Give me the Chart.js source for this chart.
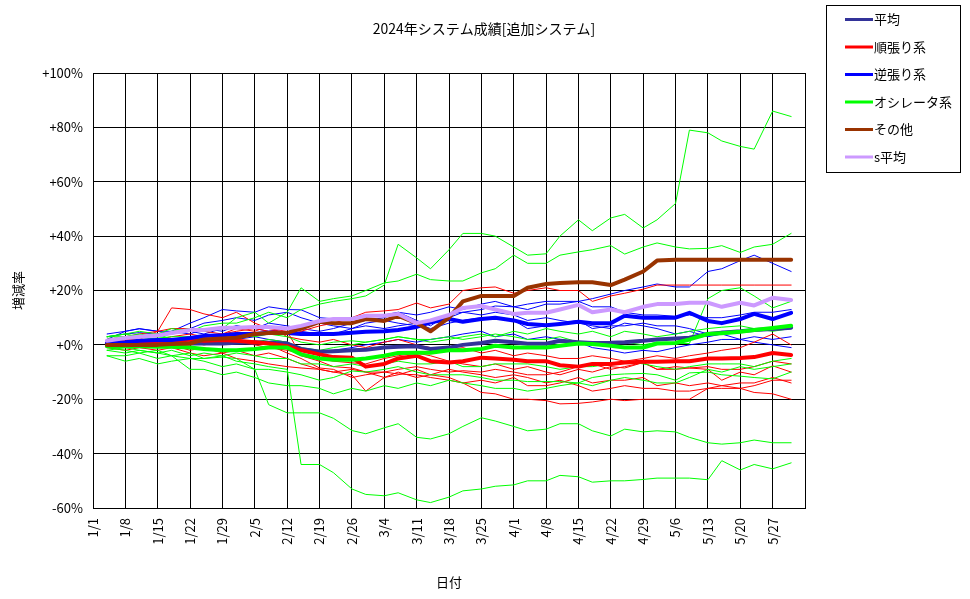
<!DOCTYPE html>
<html lang="ja">
<head>
<meta charset="utf-8">
<title>2024年システム成績[追加システム]</title>
<script src="https://cdn.jsdelivr.net/npm/chart.js@4.4.1/dist/chart.umd.min.js"></script>
<style>
  html, body { margin: 0; padding: 0; background: #fff; }
  #wrap { width: 970px; height: 599px; }
</style>
</head>
<body>
<div id="wrap"><canvas id="chart" width="970" height="599"></canvas></div>
<script>
// day number from 1/1 (0 = 1/1)
const tradeDays = [3,7,10,14,17,21,24,28,31,35,38,42,45,49,52,56,59,63,66,70,73,77,80,84,87,91,94,98,101,105,108,112,115,119,122,126,129,133,136,140,143,147,151];
const xTickLabels = ['1/1','1/8','1/15','1/22','1/29','2/5','2/12','2/19','2/26','3/4','3/11','3/18','3/25','4/1','4/8','4/15','4/22','4/29','5/6','5/13','5/20','5/27'];
const chartTitle = '2024年システム成績[追加システム]';

// averages (%)
const avgAll   = [0,0,0,0.3,0.3, 0.5,0.5,0.5,0.8,1, 0.8,0.5,-1.5,-2.5,-2.3, -2,-1.8,-1,-0.7,-0.5, -1.5,-1,0,0.7,1.5, 1,0.4,0.4,1.5,1, 0.7,0.8,1,1.5,2, 2.3,2.6,4,4.5,5, 5.5,5.8,6.3];
const avgTrend = [0.5,0.8,1,1.5,1.5, 2,1.5,1.8,1.5,1, 0.5,-0.5,-2,-3.5,-4.5, -4.7,-8,-7,-5,-4, -6,-6.5,-6,-4.7,-5, -5.5,-6,-6,-7.5,-8, -7,-7,-6.5,-6.2,-6.2, -6,-6,-5,-5,-4.8, -4.5,-3,-3.7];
const avgContra = [0.5,1,1.5,1.8,1.8, 2.5,3.3,3.5,4,4, 4.5,4.4,4,4,4, 4.5,4.8,5,5.5,6.6, 8.3,9.5,8.5,9.5,10, 9,7.7,7.2,7.7,8.5, 8,8,10.7,10,10, 10,11.8,8.8,8,9.5, 11.4,9.5,11.8];
const avgOsc   = [-0.5,-0.5,-0.5,-0.7,-0.7, -1,-1.5,-2,-2,-1.5, -1,-1,-3.5,-5,-5.5, -5.5,-5,-4,-3,-2.9, -2.9,-2,-2,-1.5,-0.3, -1,-1,-1,-0.3,0.5, 0.3,-0.3,-1,-1,0.5, 0.7,2,4,4.3,4.8, 5.5,6.2,7];
const avgOther = [0,0,0,0,0.3, 0.5,2,2.3,2.6,4, 4.4,4.4,6,8.5,8, 8,9.5,8.8,10.7,8, 5,10,16,18,18, 18,21,22.4,22.8,23, 23,22,24,27,31, 31.3,31.3,31.3,31.3,31.3, 31.3,31.3,31.3];
const avgS     = [1.5,2.5,3,3.5,4.4, 5.5,5.5,6.3,6.3,6.6, 6.6,6,7,8.8,9.5, 9.5,10.7,10.7,11.4,8, 9,11,13.6,14.3,13, 11.4,11.8,11.8,13,14.7, 12,13,12,14,15, 15,15.5,15.5,14,15.5, 14.5,17.3,16.5];

// individual oscillator systems
const osc1 = [3,4,5,4,6, 5,7,8,8,10, 12,10,13,15,16, 17,18,22,37,32, 28,35,41,41,40, 36,33,33.5,40,46, 42,46.7,48,43,46, 52,79,78,75,73, 72,86,84];
const osc2 = [3,3,4,3,5, 6,5,6,10,12, 8,12,21,16,17, 18,20,22.8,23.5,26, 24,23.5,23.5,26.5,28, 33,30,30,33,34.2, 35,36.5,33.4,36,37.5, 36,35.3,35.5,36.5,34, 36,37,41];
const osc3 = [2,3,2,2.5,3, 3,2,3,3.5,3, 4,3,1,0,1, 1.5,1,2,3,2, 2,3,2,3,4, 3,2,2,3,1, 0,1,1,0,1, 0.5,0.5,17,20,21, 18,13.6,16];
const osc4 = [-2,-3,-2,-3,-4, -3,-5,-4,-6,-7, -8,-9,-44,-44,-47, -53,-55,-55.5,-54.4,-57, -58,-56,-53.7,-53,-52, -51.5,-50,-50,-48,-48.5, -50.5,-50,-50,-49.5,-49, -49,-49,-49.6,-42.6,-46, -44,-45.6,-43.4];
const osc5 = [-4,-6,-5,-7,-6, -5,-5,-4.5,-5,-9, -22,-25,-25,-25,-27, -31.5,-32.7,-30.5,-29,-34, -34.6,-32.7,-30,-26.8,-28, -30,-31.6,-31,-29,-29, -31.6,-33.5,-31,-32,-31.6, -32,-34,-36,-36.5,-36, -35,-36,-36];
const osc6 = [-1,-2,-3,-2,-4, -5,-6,-8,-7,-9, -9,-10,-11,-13,-12, -9.6,-10,-9,-8,-10, -11,-11,-11,-12,-13, -13,-13.5,-13.5,-13.5,-14, -12,-11,-10.7,-10.5,-11, -13,-10.3,-10,-11,-11.5, -12,-12.5,-10];
const osc7 = [-2,-1,-2,-3,-2, -4,-3,-4,-3,-4, -5,-5,-7,-7,-8, -7,-8,-7,-6,-7, -7,-6,-8,-8,-7, -7,-7,-8,-9,-8, -8,-7,-6,-7,-8, -9,-8,-7,-7,-7, -8,-6,-5];
const osc8 = [3,4,3,4,2, 2,1,2,1,1, 2,1,-1,-2,-1, 0,1,2,3,2, 1,2,3,4,3, 5,4,6,5,4, 5,3,5,4,3, 4,5,6,6.5,7, 6,5,6];
const osc9 = [-4,-4,-3,-5,-4, -9,-9,-11,-10,-12, -14,-15,-15,-16,-18, -16,-17,-15,-16,-14, -15,-13,-14,-15,-16, -16,-17,-16,-15,-14, -15,-13,-12,-13,-14, -14,-12,-9,-10,-8, -9,-8,-7];

// individual trend systems
const trend1 = [1,2,2,5,13.6, 13,11.4,10,12,8, 6,5,-4,-6,-8, -8.5,-10,-12,-11,-9, -11,-12,-14,-13,-14, -12,-15,-15,-14,-12, -14,-13,-13,-12,-15, -14,-15,-14,-15,-16, -15,-13,-13];
const trend2 = [1,1.5,2,2,3, 4,3,4,5,6, 5,6,5,7,8, 10,12,12.5,13,15.4, 13.6,15,20,21,21.3, 19,20,21,20,20, 16,18,19,20.5,22, 22,22,22,22,22, 22,22,22];
const trend3 = [0,-1,-1,-2,-1, -3,-4,-3,-5,-6, -7,-8,-8.5,-9,-10, -9,-10,-10,-10.7,-11, -12,-13,-14,-17.5,-18, -20,-20,-20.5,-21.7,-21.5, -21,-20,-20.5,-20,-20, -20,-20,-16,-16,-16, -17.5,-18,-20];
const trend4 = [0.5,0,1,-1,0, -2,-1,-3,-2,-4, -3,-5,-7,-9,-10, -11,-17,-12,-10,-12, -11,-9,-10,-11,-12, -11,-12,-14,-13,-15, -17,-16,-15,-16,-16, -17,-17,-16,-15,-14, -14,-12,-14];
const trend5 = [1,1,0,1,2, 1,2,0,1,0, -1,-2,-3,-5,-6, -6.6,-7,-5,-4,-3, -4,-6,-7,-8,-7, -9,-8,-10,-11,-9, -10,-8,-8.5,-6.5,-9, -9,-8.5,-9,-13,-10, -11,-7.7,-10];
const trend6 = [2,3,4,5,6, 6,5,4,6,5, 7,3,2,1,2, 0,-1,1,2,0, -1,-2,-1,-3,-2, -4,-3,-4,-5,-5, -4,-5,-6,-5,-4, -5,-4,-3,-2,-1, 1,4,0];
const trend7 = [-1,-2,-1,0,-1, 1,0,1,2,1, 0,-3,-5,-8.5,-9, -12,-11,-10,-9,-8, -9,-10,-9.5,-10,-9, -10,-11,-11,-10,-8, -7,-9,-8,-6.5,-9, -8,-8.5,-8,-9,-9, -8,-6,-7];

// individual contrarian systems
const contra1 = [2,5,5.9,5,5, 8,10,13,12.5,12, 14,13,12.9,10,9.6, 10,11,11,12,9, 7,11.4,12,13,14.3, 14,15,16,16,16, 17,18.7,20,21.3,22.4, 21.3,21.3,27,28,31, 33,30,27];
const contra2 = [1,2,3,3,4, 5,4,6,7,6, 8,7,6,5,6, 8,9,10,12,11, 12,14,13,15,16, 14,13,15,15,16, 14,14,12,11,11, 10.5,11,10,10,11, 12,12,13];
const contra3 = [3,4,4.5,4,5, 4,6,5,7,6, 5,6,5,4,4, 6,7,6,7,8, 6,8,9,10,10, 9,6,7,8,9, 6,7,7,8,7, 7,6,4,5,5, 6,6,6];
const contra4 = [0,1,2,1,2, 3,2,1,2,3, 2,1,-2,-3,-2, -1,0,1,2,1, 2,3,4,5,3, 4,2,3,2,1, -1,-2,-3,-2,-2.5, -1,0,1,2,2, 1,0,-1];
const contra5 = [4,5,6,5,4, 6,8,9,10,9, 11,12,10,8,7, 6,8,9,8,7, 9,10,12,11,12, 11,9,10,9,8, 7,6,8,7,6, 4,5,3,4,2, 3,2,3];

const seriesNames = ['平均', '順張り系', '逆張り系', 'オシレータ系', 'その他', 's平均'];
const seriesValues = [avgAll, avgTrend, avgContra, avgOsc, avgOther, avgS];
const seriesColors = ['#333399', '#FF0000', '#0000FF', '#00FF00', '#993300', '#CC99FF'];

const thinGroups = [
  { color: '#00FF00', lines: [osc1, osc2, osc3, osc4, osc5, osc6, osc7, osc8, osc9] },
  { color: '#FF0000', lines: [trend1, trend2, trend3, trend4, trend5, trend6, trend7] },
  { color: '#0000FF', lines: [contra1, contra2, contra3, contra4, contra5] }
];

function toPoints(values) {
  return values.map((v, i) => ({ x: tradeDays[i], y: v }));
}

const datasets = [];
seriesNames.forEach((name, i) => {
  datasets.push({
    label: name,
    data: toPoints(seriesValues[i]),
    borderColor: seriesColors[i],
    borderWidth: 4,
    order: 5 - i
  });
});
thinGroups.forEach(g => {
  g.lines.forEach(line => {
    datasets.push({
      label: '',
      data: toPoints(line),
      borderColor: g.color,
      borderWidth: 1,
      order: 10
    });
  });
});

const frameText = {
  id: 'frameText',
  afterDraw(chart) {
    const ctx = chart.ctx;
    ctx.save();
    ctx.fillStyle = '#000';
    ctx.font = '14px "Noto Sans CJK JP"';
    ctx.textAlign = 'center';
    ctx.textBaseline = 'middle';
    ctx.fillText(chartTitle, 484, 29);

    ctx.font = '13px "Noto Sans CJK JP"';
    ctx.strokeStyle = '#000';
    ctx.lineWidth = 1;
    ctx.strokeRect(826.5, 5.5, 134, 167);
    ctx.textAlign = 'left';
    seriesNames.forEach((name, i) => {
      const y = 19.5 + i * 27.5;
      ctx.strokeStyle = seriesColors[i];
      ctx.lineWidth = 3;
      ctx.beginPath();
      ctx.moveTo(845, y);
      ctx.lineTo(873, y);
      ctx.stroke();
      ctx.fillText(name, 874, y);
    });
    ctx.restore();
  }
};

Chart.defaults.font.family = '"Noto Sans CJK JP", sans-serif';
Chart.defaults.font.size = 13;
Chart.defaults.color = '#000';

new Chart(document.getElementById('chart'), {
  type: 'line',
  data: { datasets: datasets },
  options: {
    responsive: false,
    animation: false,
    events: [],
    layout: { padding: { left: 0, top: 73, right: 165, bottom: 0 } },
    elements: {
      point: { radius: 0 },
      line: { tension: 0, borderJoinStyle: 'round', borderCapStyle: 'round' }
    },
    plugins: {
      legend: { display: false },
      tooltip: { enabled: false }
    },
    scales: {
      x: {
        type: 'linear',
        min: 0,
        max: 154,
        grid: { color: '#000', lineWidth: 1, drawTicks: false },
        border: { color: '#000', width: 1 },
        ticks: {
          stepSize: 7,
          autoSkip: false,
          minRotation: 90,
          maxRotation: 90,
          padding: 10,
          callback: v => xTickLabels[v / 7] ?? ''
        },
        title: { display: true, text: '日付', padding: { top: 0, bottom: 9 } },
        afterFit: s => { s.height = 91; }
      },
      y: {
        min: -60,
        max: 100,
        grid: { color: '#000', lineWidth: 1, drawTicks: false },
        border: { color: '#000', width: 1 },
        ticks: {
          stepSize: 20,
          padding: 10,
          callback: v => (v >= 0 ? '+' : '') + v + '%'
        },
        title: { display: true, text: '増減率', padding: { top: 10, bottom: 0 } },
        afterFit: s => { s.width = 93; }
      }
    }
  },
  plugins: [frameText]
});
</script>
</body>
</html>
